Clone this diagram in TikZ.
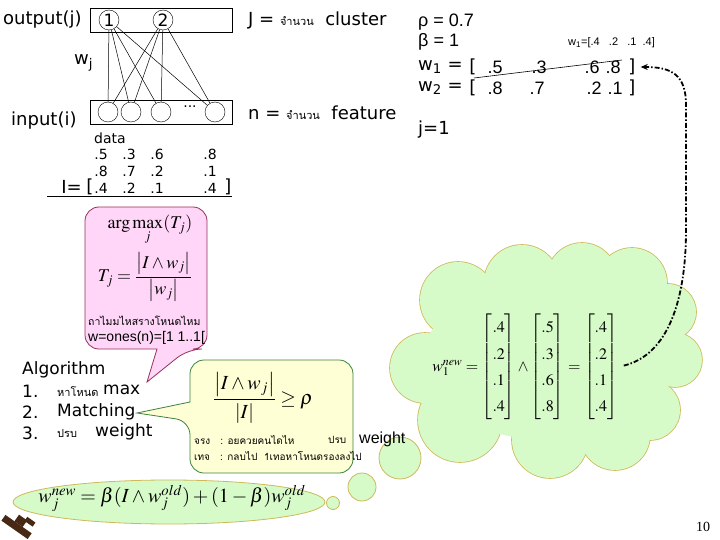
\documentclass[tikz,border=0pt]{standalone}
\usepackage{amsmath}
\usepackage{mathptmx}
\usepackage{fontspec}
\setmainfont{Liberation Serif}
\newfontfamily\comic{DejaVu Sans}
\newfontfamily\arial{Liberation Sans}
\newfontfamily\thai[Script=Thai]{Loma}
\usetikzlibrary{arrows.meta}
\definecolor{pinkfill}{RGB}{255,214,248}
\definecolor{pinkline}{RGB}{150,50,90}
\definecolor{yelfill}{RGB}{255,255,214}
\definecolor{yelline}{RGB}{60,130,60}
\definecolor{cloudfill}{RGB}{214,250,200}
\definecolor{cloudline}{RGB}{205,185,90}
\definecolor{logobrown}{RGB}{70,40,20}
\newcommand{\myfs}[1]{\fontsize{#1}{#1}\selectfont}
\begin{document}
\begin{tikzpicture}[x=1pt,y=-1pt,every node/.style={inner sep=0pt},
  lbl/.style={anchor=west,font={\comic\myfs{18}}},
  small/.style={anchor=west,font={\comic\myfs{14}}},
  val/.style={font={\arial\myfs{18}}},
  dat/.style={font={\comic\myfs{14}}},
  neuron/.style={circle,draw,minimum size=20pt,inner sep=0pt},
  boxs/.style={draw,minimum width=142pt,minimum height=24pt,anchor=north west},
  pinkbub/.style={draw=pinkline,fill=pinkfill,line width=0.8pt},
  yelbub/.style={draw=yelline,fill=yelfill,line width=0.8pt},
  cloudst/.style={draw=cloudline,fill=cloudfill,line width=0.8pt},
  arrowst/.style={line width=1.8pt,dash pattern=on 5pt off 2pt on 1.5pt off 2pt,-{Stealth[length=7pt,width=6pt]}}]
\useasboundingbox (0,0) rectangle (720,540);

% ---------- network ----------
\node[boxs] (outbox) at (90,8) {};
\node[boxs] (inbox) at (90,100) {};
\node[neuron,font={\comic\myfs{17}}] (o1) at (109,20) {1};
\node[neuron,font={\comic\myfs{17}}] (o2) at (163,20) {2};
\node[neuron] (i1) at (108,112) {};
\node[neuron] (i2) at (131,112) {};
\node[neuron] (i3) at (161,112) {};
\node[neuron] (i4) at (215,112) {};
\node[font={\comic\myfs{14}}] (dots) at (190,107) {...};
\foreach \o in {o1,o2} \foreach \i in {i1,i2,i3,i4} \draw[line width=0.5pt] (\o) -- (\i);
\node[lbl] (outl) at (3,20) {output(j)};
\node[lbl] (inl) at (11,121) {input(i)};
\node[lbl] (wj) at (74,63) {w\textsubscript{j}};

\node[lbl] (Jl) at (248,20) {J = {\thai\myfs{11}จำนวน}\ \ cluster};
\node[lbl] (nl) at (248,113) {n = {\thai\myfs{11}จำนวน}\ \ feature};

% ---------- parameters ----------
\node[anchor=west,font={\arial\myfs{18}}] (rho) at (418,22) {ρ = 0.7};
\node[anchor=west,font={\arial\myfs{18}}] (beta) at (418,42) {β = 1};
\node[lbl] (w1l) at (418,67) {w\textsubscript{1} =};
\node[lbl] (w2l) at (418,88) {w\textsubscript{2} =};
\node[font={\comic\myfs{18}}] (lb1) at (473,67) {[};
\node[font={\comic\myfs{18}}] (lb2) at (473,88) {[};
\node[val] (a1) at (495,67) {.5};
\node[val] (a2) at (539,67) {.3};
\node[val] (a3) at (592,67) {.6};
\node[val] (a4) at (613,67) {.8};
\node[font={\comic\myfs{18}}] (rb1) at (632,67) {]};
\node[val] (b1) at (495,88) {.8};
\node[val] (b2) at (537,88) {.7};
\node[val] (b3) at (594,88) {.2};
\node[val] (b4) at (615,88) {.1};
\node[font={\comic\myfs{18}}] (rb2) at (632,88) {]};
\coordinate (s1) at (474,78);
\coordinate (s2) at (622,60);
\draw[line width=0.6pt] (s1) -- (s2);
\node[anchor=west,font={\arial\myfs{11}}] (wt) at (568,43) {w\textsubscript{1}=[.4\ \ \ .2\ \ \ .1\ \ .4]};
\node[lbl] (j1) at (418,130) {j=1};

% ---------- data ----------
\node[small] (data) at (94,138) {data};
\node[dat] (d11) at (101,154) {.5};
\node[dat] (d12) at (129,154) {.3};
\node[dat] (d13) at (157,154) {.6};
\node[dat] (d14) at (210,154) {.8};
\node[dat] (d21) at (101,171) {.8};
\node[dat] (d22) at (129,171) {.7};
\node[dat] (d23) at (157,171) {.2};
\node[dat] (d24) at (210,171) {.1};
\node[dat] (d31) at (101,188) {.4};
\node[dat] (d32) at (129,188) {.2};
\node[dat] (d33) at (157,188) {.1};
\node[dat] (d34) at (210,188) {.4};
\node[anchor=east,font={\comic\myfs{18}}] (Il) at (82,187) {I=};
\node[font={\comic\myfs{18}}] (Ib) at (90,187) {[};
\node[font={\comic\myfs{18}}] (Ir) at (228,187) {]};
\coordinate (u1) at (47,196);
\coordinate (u2) at (232,196);
\draw[line width=0.8pt] (u1) -- (u2);

% ---------- pink callout ----------
\draw[pinkbub] (85,280) [rounded corners=14] |- (207,207) |- (188,349) [sharp corners] -- (147,382) -- (157,349) [rounded corners=14] -| (85,280) -- cycle;
\node[font=\myfs{18}] (argmax) at (150,230) {$\arg\max\limits_{j}(T_j)$};
\node[font=\myfs{18}] (Tj) at (145,277) {$T_j=\dfrac{\left|I\wedge w_j\right|}{\left|w_j\right|}$};
\node[anchor=west,font={\thai\myfs{10.5}}] (thaiP) at (88,321) {ถาไมมไหสรางโหนดไหม};
\node[anchor=west,font={\arial\myfs{14}}] (ones) at (88,338) {w=ones(n)=[1 1..1[};

% ---------- algorithm ----------
\node[lbl,font={\comic\myfs{17}}] (alg) at (22,370) {Algorithm};
\node[lbl,font={\comic\myfs{17}}] (n1) at (22,391) {1.};
\node[lbl,font={\comic\myfs{17}}] (n2) at (22,412) {2.};
\node[lbl,font={\comic\myfs{17}}] (n3) at (22,433) {3.};
\node[anchor=west,font={\thai\myfs{11}}] (t1) at (57,392) {หาโหนด};
\node[lbl,font={\comic\myfs{17}}] (mx) at (103,390) {max};
\node[lbl,font={\comic\myfs{17}}] (match) at (57,412) {Matching};
\node[anchor=west,font={\thai\myfs{11}}] (t3) at (57,434) {ปรบ};
\node[lbl,font={\comic\myfs{17}}] (wgt) at (95,432) {weight};

% ---------- cloud ----------
\foreach \cx/\cy/\r in {458/300/38, 522/283/38, 582/278/35, 632/283/35, 668/312/28, 675/360/27, 650/410/30, 615/435/35, 550/440/38, 460/420/42, 425/368/35}
  \draw[draw=cloudline,line width=1.6pt] (\cx,\cy) circle[radius=\r];
\foreach \cx/\cy/\r in {458/300/38, 522/283/38, 582/278/35, 632/283/35, 668/312/28, 675/360/27, 650/410/30, 615/435/35, 550/440/38, 460/420/42, 425/368/35}
  \fill[cloudfill] (\cx,\cy) circle[radius=\r];
\fill[cloudfill] (548,360) ellipse[x radius=125,y radius=80];
\draw[cloudst] (400,458) circle[radius=21];
\draw[cloudst] (362,487) circle[radius=14];
\draw[cloudst] (333,503) circle[radius=6.5];

% ---------- yellow callout ----------
\draw[yelbub] (190,380) [rounded corners=14] |- (353,360) |- (190,473) -- (190,421) [sharp corners] -- (137,413) -- (190,402) -- cycle;
\node[font=\myfs{20}] (match2) at (263,398) {$\dfrac{\left|I\wedge w_j\right|}{\left|I\right|}\ge\rho$};
\node[anchor=west,font={\thai\myfs{10}}] (y1) at (194,440) {จรง\ \ \ : อยควยคนไดไห};
\node[anchor=west,font={\thai\myfs{10}}] (y1b) at (328,440) {ปรบ};
\node[anchor=west,font={\arial\myfs{16}}] (y1c) at (359,439) {weight};
\node[anchor=west,font={\thai\myfs{10}}] (y2) at (194,456) {เทจ\ \ \ : กลบไป\ \ 1เทอหาโหนดรองลงไป};

% ---------- update formula ----------
\node[font=\myfs{16}] (wnew) at (525,367) {$\renewcommand{\arraystretch}{1.65}w_1^{new}=\begin{bmatrix}.4\\.2\\.1\\.4\end{bmatrix}\wedge\begin{bmatrix}.5\\.3\\.6\\.8\end{bmatrix}=\begin{bmatrix}.4\\.2\\.1\\.4\end{bmatrix}$};
\draw[arrowst,shorten <=6pt,shorten >=5pt] (wnew.east) .. controls (668,355) and (686,300) .. (686,230) -- (686,105) .. controls (686,75) and (672,67) .. (rb1.east);

% ---------- bottom ellipse ----------
\draw[cloudst] (169,502) ellipse[x radius=156,y radius=22];
\node[font=\myfs{20}] (upd) at (172,498) {$w_j^{new}=\beta(I\wedge w_j^{old})+(1-\beta)w_j^{old}$};

% ---------- logo and page number ----------
\begin{scope}[rotate around={-35:(16,526)}]
\fill[logobrown] (1,523) rectangle (33,530);
\fill[logobrown] (12,515) rectangle (22,523);
\fill[logobrown] (20,512) rectangle (30,517);
\end{scope}
\node[font=\myfs{14}] (pg) at (703,527) {10};
\end{tikzpicture}
\end{document}
